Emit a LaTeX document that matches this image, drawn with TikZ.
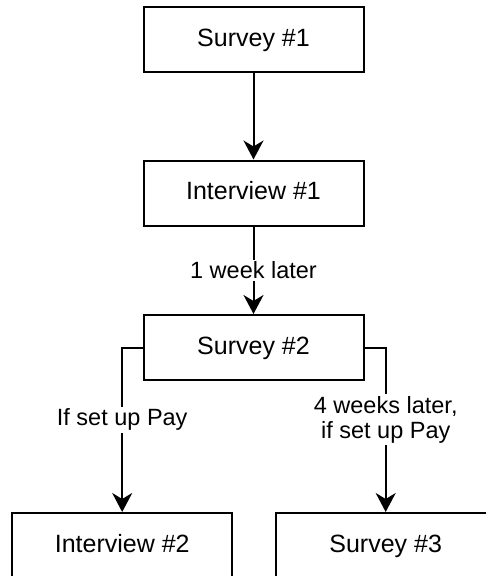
\documentclass[tikz,border=0pt]{standalone}
\usepackage{fontspec}
\setmainfont{Liberation Sans}
\usepackage{tikz}
\usetikzlibrary{positioning,calc,arrows.meta}

\begin{document}
\begin{tikzpicture}[x=1pt, y=-1pt,
    box/.style={draw, line width=2pt, minimum width=220pt, minimum height=65pt, inner sep=0pt, text height=18pt, text depth=5pt, font=\fontsize{25}{28}\selectfont},
    flow/.style={line width=2pt, -{Stealth[length=19pt, width=20pt, inset=6pt]}},
    lbl/.style={fill=white, inner sep=2pt, align=center, font=\fontsize{23.5}{25}\selectfont}]
    \useasboundingbox (0,0) rectangle (486,576);

    % Boxes
    \node[box] (survey1) at (253.5,39.5) {Survey \#1};
    \node[box] (interview1) at (253.5,193) {Interview \#1};
    \node[box] (survey2) at (253.5,347.5) {Survey \#2};
    \node[box] (interview2) at (122.2,545.5) {Interview \#2};
    \node[box] (survey3) at (385.7,545.5) {Survey \#3};

    % Arrows
    \draw[flow] (survey1) -- (interview1);
    \draw[flow] (interview1) -- node[lbl] {1 week later} (survey2);
    \draw[flow] (survey2.west) -| node[lbl, pos=0.72] {If set up Pay} (interview2);
    \draw[flow] (survey2.east) -| node[lbl, pos=0.72] {4 weeks later,\\if set up Pay} (survey3);
\end{tikzpicture}
\end{document}
